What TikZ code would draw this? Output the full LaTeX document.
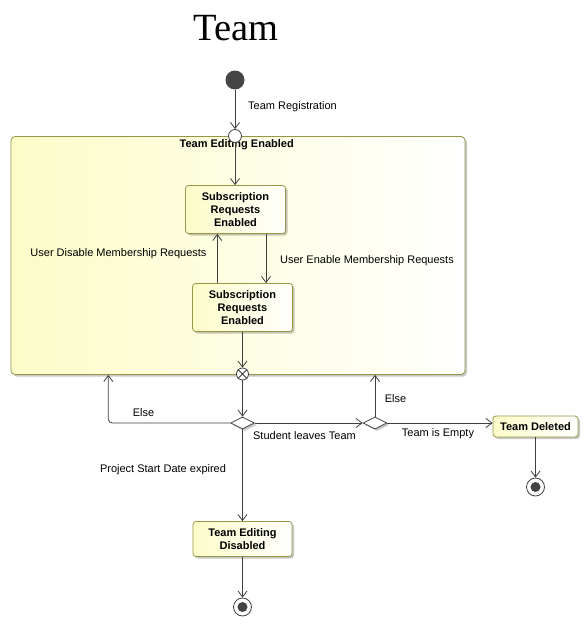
\documentclass[tikz,border=0pt]{standalone}
\usepackage{fontspec}
\setmainfont{Liberation Sans}
\newfontfamily\titlefont{Liberation Serif}
\usetikzlibrary{arrows.meta,shapes.geometric,shadows,calc}
\definecolor{ln}{RGB}{64,64,64}
\definecolor{bd}{RGB}{150,150,70}
\definecolor{yl}{RGB}{252,252,200}
\definecolor{dotc}{RGB}{68,68,68}
\begin{document}
\begin{tikzpicture}[x=1pt,y=-1pt,
 every node/.style={font=\fontsize{11}{13}\selectfont, text=black},
 shad/.style={drop shadow={shadow xshift=2pt,shadow yshift=-2pt,fill=black,opacity=0.22}},
 statebox/.style={draw=bd, line width=0.8pt, rounded corners=3pt, left color=yl, right color=white, shad, align=center, font=\bfseries\fontsize{11}{13}\selectfont, inner sep=0pt},
 flow/.style={draw=ln, line width=0.8pt, -{Straight Barb[length=6pt,width=9pt]}},
 plain/.style={draw=ln, line width=0.8pt},
 lbl/.style={inner sep=0pt},
 dec/.style={diamond, draw=ln, line width=0.8pt, fill=white, aspect=2, minimum width=24pt, minimum height=12pt, inner sep=0pt, shad},
 finalst/.style={circle, draw=ln, line width=0.8pt, fill=white, minimum size=18pt, inner sep=0pt, path picture={\fill[dotc] (path picture bounding box.center) circle (5pt);}},
 ]
\fill[white] (0,0) rectangle (588,626);
\useasboundingbox (0,0) rectangle (588,626);

% title
\node[font=\titlefont\fontsize{38.5}{42}\selectfont] (title) at (236,28) {Team};

% composite state
\node[draw=bd, line width=0.8pt, rounded corners=4pt, left color=yl, right color=white, shad, minimum width=454pt, minimum height=238pt, inner sep=0pt] (comp) at (238,255.5) {};
\node[font=\bfseries\fontsize{11}{13}\selectfont] (ctitle) at (236.7,145) {Team Editing Enabled};

% initial and entry
\node[circle, fill=dotc, minimum size=19pt, inner sep=0pt] (init) at (235,80) {};
\node[circle, draw=ln, line width=0.8pt, fill=white, minimum size=13pt, inner sep=0pt] (entry) at (235,136) {};

% inner states
\node[statebox, minimum width=100pt, minimum height=48pt] (s1) at (235.5,209.5) {Subscription\\Requests\\Enabled};
\node[statebox, minimum width=100pt, minimum height=48pt] (s2) at (242.5,307.5) {Subscription\\Requests\\Enabled};

% exit point
\node[circle, draw=ln, line width=0.8pt, fill=white, minimum size=12pt, inner sep=0pt] (exit) at (242.5,374) {};
\draw[plain] (exit.north west) -- (exit.south east) (exit.north east) -- (exit.south west);

% decisions
\node[dec] (d1) at (242.5,423) {};
\node[dec] (d2) at (375,423) {};

% other states
\node[statebox, minimum width=85pt, minimum height=21pt] (td) at (535.5,426.5) {Team Deleted};
\node[statebox, minimum width=99pt, minimum height=35pt] (ted) at (242.5,539) {Team Editing\\Disabled};

% finals
\node[finalst] (f1) at (535.5,487) {};
\node[finalst] (f2) at (242.5,607) {};

% helper coordinates
\coordinate (xr) at (266,0);
\coordinate (xl) at (217.3,0);
\coordinate (xe) at (108.3,0);

% connectors
\draw[flow] (init) -- (entry);
\draw[flow] (entry.south) -- (entry.south |- s1.north);
\draw[flow] (s1.south -| xr) -- (s2.north -| xr);
\draw[flow] (s2.north -| xl) -- (s1.south -| xl);
\draw[flow] (s2.south) -- (exit.north);
\draw[flow] (exit.south) -- (d1.north);
\draw[flow, rounded corners=4pt] (d1.west) -| (comp.south -| xe);
\draw[flow] (d1.east) -- (d2.west);
\draw[flow] (d2.north) -- (comp.south -| d2.north);
\draw[flow] (d2.east) -- (d2.east -| td.west);
\draw[flow] (td.south) -- (f1.north);
\draw[flow] (d1.south) -- (ted.north);
\draw[flow] (ted.south) -- (f2.north);

% labels
\node[lbl, anchor=west] (l1) at (248,107) {Team Registration};
\node[lbl] (l2) at (118.5,254) {User Disable Membership Requests};
\node[lbl] (l3) at (367,261) {User Enable Membership Requests};
\node[lbl] (l4) at (143.5,413) {Else};
\node[lbl] (l5) at (304.5,436) {Student leaves Team};
\node[lbl] (l6) at (395.5,399) {Else};
\node[lbl] (l7) at (438,434) {Team is Empty};
\node[lbl] (l8) at (163,470) {Project Start Date expired};
\end{tikzpicture}
\end{document}
